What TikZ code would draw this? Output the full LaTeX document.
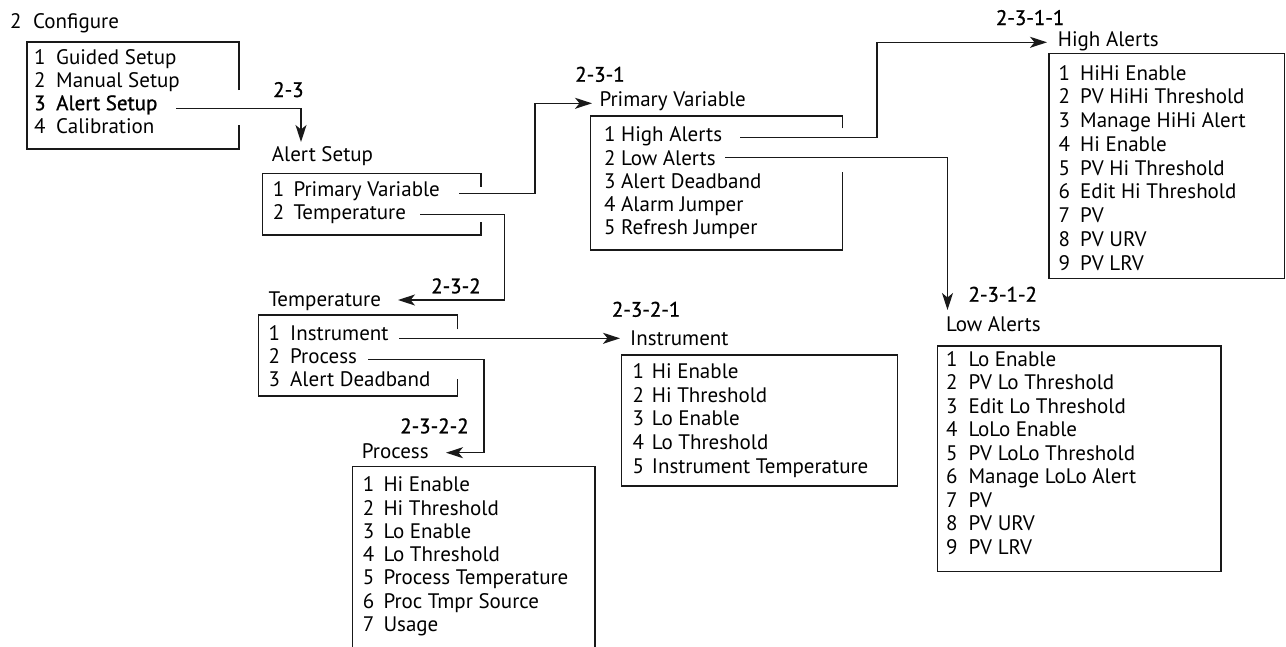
\documentclass[tikz,border=0pt]{standalone}
\usepackage{fontspec}
\setmainfont{PT Sans}
\newfontfamily\semib{PT Sans}[FakeBold=1]
\usetikzlibrary{arrows.meta}
\tikzset{
  txt/.style={anchor=base west, inner sep=0pt, text=black, font=\fontsize{21}{23}\selectfont},
  lbl/.style={anchor=base west, inner sep=0pt, text=black, font=\fontsize{21}{23}\selectfont\semib},
  box/.style={line width=1.3pt, draw=black!90},
  conn/.style={line width=1.3pt, draw=black!90},
  arr/.style={conn, -{Stealth[length=17pt,width=11pt,inset=4.5pt]}},
}
\newcommand\mymenu[6]{%
  \foreach \t [count=\i] in {#6}{
    \node[txt] (#1n\i) at (#2,{#4+(\i-1)*#5}) {\i};
    \node[txt] (#1\i) at (#3,{#4+(\i-1)*#5}) {\t};
  }}
\begin{document}
\begin{tikzpicture}[x=1pt,y=-1pt]
\useasboundingbox (0,0) rectangle (1286,646);

% ---------- Configure ----------
\node[txt] (cfgnum) at (10,28) {2};
\node[txt] (cfgT) at (33,28) {Configure};
\draw[box] (239,90) |- (27,42) |- (239,149) -- (239,125);
\node[txt] (cfgn1) at (34,64) {1};
\node[txt] (cfg1) at (56,64) {Guided Setup};
\node[txt] (cfgn2) at (34,87.1) {2};
\node[txt] (cfg2) at (56,87.1) {Manual Setup};
\node[lbl] (cfgn3) at (34,110.2) {3};
\node[lbl] (cfg3) at (56,110.2) {Alert Setup};
\node[txt] (cfgn4) at (34,133.3) {4};
\node[txt] (cfg4) at (56,133.3) {Calibration};

% ---------- Alert Setup ----------
\node[lbl] (l23) at (273,97) {2-3};
\node[txt] (asT) at (271.7,161.7) {Alert Setup};
\draw[box] (481,186.7) |- (262.7,173.3) |- (481,235) -- (481,221.7);
\mymenu{as}{272.7}{293.3}{196.7}{22.8}{Primary Variable,Temperature}

% ---------- Primary Variable ----------
\node[lbl] (l231) at (575,81.7) {2-3-1};
\node[txt] (pvT) at (599.3,106.7) {Primary Variable};
\draw[box] (842.7,128.3) |- (590.7,116) |- (842.7,250) -- (842.7,171.7);
\mymenu{pv}{604}{621}{141.7}{23.3}{High Alerts,Low Alerts,Alert Deadband,Alarm Jumper,Refresh Jumper}

% ---------- High Alerts ----------
\node[lbl] (l2311) at (995.7,25) {2-3-1-1};
\node[txt] (haT) at (1057.7,46.7) {High Alerts};
\draw[box] (1049,53.3) rectangle (1284.5,278.3);
\mymenu{ha}{1058.3}{1080}{80}{23.75}{HiHi Enable,PV HiHi Threshold,Manage HiHi Alert,Hi Enable,PV Hi Threshold,Edit Hi Threshold,PV,PV URV,PV LRV}

% ---------- Low Alerts ----------
\node[lbl] (l2312) at (968.3,301.7) {2-3-1-2};
\node[txt] (laT) at (946,331.7) {Low Alerts};
\draw[box] (937.7,346) rectangle (1221,571.7);
\mymenu{la}{946}{968.3}{366}{23.5}{Lo Enable,PV Lo Threshold,Edit Lo Threshold,LoLo Enable,PV LoLo Threshold,Manage LoLo Alert,PV,PV URV,PV LRV}

% ---------- Temperature ----------
\node[lbl] (l232) at (431,293.3) {2-3-2};
\node[txt] (tpT) at (268.3,306.7) {Temperature};
\draw[box] (457.7,329.3) |- (258.3,315) |- (457.7,396) -- (457.7,379.3);
\mymenu{tp}{268.3}{290}{340}{23.3}{Instrument,Process,Alert Deadband}

% ---------- Instrument ----------
\node[lbl] (l2321) at (611.7,316.7) {2-3-2-1};
\node[txt] (inT) at (630,345) {Instrument};
\draw[box] (621.7,355) rectangle (897.7,486);
\mymenu{in}{632.3}{651.7}{378.3}{23.75}{Hi Enable,Hi Threshold,Lo Enable,Lo Threshold,Instrument Temperature}

% ---------- Process ----------
\node[lbl] (l2322) at (400,433.3) {2-3-2-2};
\node[txt] (prT) at (361.7,458.3) {Process};
\draw[box] (352.7,647) -- (352.7,466.7) -- (595,466.7) -- (595,647);
\mymenu{pr}{362.7}{383.3}{491.7}{23.3}{Hi Enable,Hi Threshold,Lo Enable,Lo Threshold,Process Temperature,Proc Tmpr Source,Usage}

% ---------- connector points ----------
\coordinate (c1s) at (176,108.3);   \coordinate (c1a) at (301,108.3);   \coordinate (c1t) at (301,142);
\coordinate (c2s) at (459,193.3);   \coordinate (c2a) at (535,193.3);   \coordinate (c2b) at (535,103.3); \coordinate (c2t) at (592,103.3);
\coordinate (c3s) at (420,214.3);   \coordinate (c3a) at (504.5,214.3); \coordinate (c3b) at (504.5,300);  \coordinate (c3t) at (398,300);
\coordinate (c4s) at (740,137.3);   \coordinate (c4a) at (877,137.3);   \coordinate (c4b) at (877,42.3);   \coordinate (c4t) at (1047,42.3);
\coordinate (c5s) at (725,157.7);   \coordinate (c5a) at (947.5,157.7); \coordinate (c5t) at (947.5,310);
\coordinate (c6s) at (399,338.3);   \coordinate (c6t) at (620,338.3);
\coordinate (c7s) at (368.3,359.3); \coordinate (c7a) at (484,359.3);   \coordinate (c7b) at (484,452.7);  \coordinate (c7t) at (446,452.7);

\draw[arr] (c1s) -- (c1a) -- (c1t);
\draw[arr] (c2s) -- (c2a) -- (c2b) -- (c2t);
\draw[arr] (c3s) -- (c3a) -- (c3b) -- (c3t);
\draw[arr] (c4s) -- (c4a) -- (c4b) -- (c4t);
\draw[arr] (c5s) -- (c5a) -- (c5t);
\draw[arr] (c6s) -- (c6t);
\draw[arr] (c7s) -- (c7a) -- (c7b) -- (c7t);
\end{tikzpicture}
\end{document}
